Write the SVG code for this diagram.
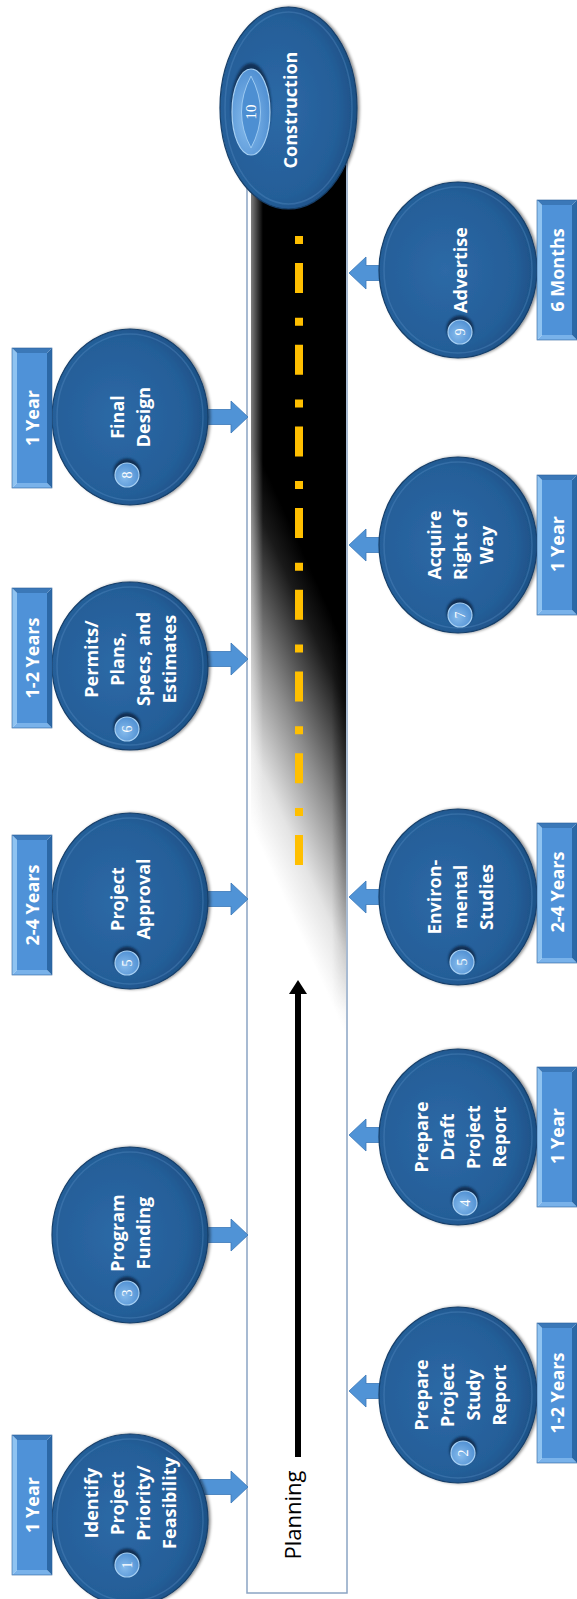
<svg xmlns="http://www.w3.org/2000/svg" width="577" height="1599" viewBox="0 0 577 1599">
<style>
.node{fill:url(#nodeGrad);stroke:#173f69;stroke-width:1.2;filter:url(#shadow)}
.rim{fill:none;stroke:#5a8fc6;stroke-opacity:.35;stroke-width:1.5}
.nl{font-family:"Open Sans","Liberation Sans",sans-serif;font-weight:700;font-size:18px;fill:#fff;text-anchor:middle}
.bl{font-family:"Open Sans","Liberation Sans",sans-serif;font-weight:700;font-size:18px;fill:#fff;text-anchor:middle}
.num{font-family:"Liberation Serif",serif;font-size:14px;fill:#fff;text-anchor:middle}
.blk{fill:#5093d6;stroke:#3a77b8;stroke-width:.8}
.plan{font-family:"Open Sans","Liberation Sans",sans-serif;font-size:22px;fill:#000;text-anchor:middle}
</style>
<defs>
<radialGradient id="nodeGrad" cx="0.42" cy="0.5" r="0.62">
<stop offset="0" stop-color="#2d69a6"/><stop offset="0.72" stop-color="#245e98"/><stop offset="1" stop-color="#1b4c80"/>
</radialGradient>
<radialGradient id="badgeGrad" cx="0.4" cy="0.6" r="0.7">
<stop offset="0" stop-color="#86bbec"/><stop offset="1" stop-color="#4a8bd0"/>
</radialGradient>
<linearGradient id="roadGrad" gradientUnits="userSpaceOnUse" x1="300" y1="545" x2="154" y2="611">
<stop offset="0" stop-color="#000"/><stop offset="0.15" stop-color="#1a1a1a"/><stop offset="0.5" stop-color="#8c8c8c"/><stop offset="0.8" stop-color="#e4e4e4"/><stop offset="1" stop-color="#fff"/>
</linearGradient>
<linearGradient id="lhl" x1="0" y1="0" x2="1" y2="0">
<stop offset="0" stop-color="#fff" stop-opacity="0.5"/><stop offset="1" stop-color="#fff" stop-opacity="0"/>
</linearGradient>
<linearGradient id="rsh" x1="0" y1="0" x2="1" y2="0">
<stop offset="0" stop-color="#000" stop-opacity="0"/><stop offset="1" stop-color="#000" stop-opacity="0.55"/>
</linearGradient>
<linearGradient id="vfade" gradientUnits="userSpaceOnUse" x1="0" y1="700" x2="0" y2="1010">
<stop offset="0" stop-color="#fff"/><stop offset="1" stop-color="#000"/>
</linearGradient>
<mask id="rfade" maskUnits="userSpaceOnUse" x="320" y="100" width="40" height="1500">
<rect x="320" y="100" width="40" height="1500" fill="url(#vfade)"/>
</mask>
<marker id="arrowHead" viewBox="0 0 14 18" refX="8" refY="9" markerWidth="14" markerHeight="18" markerUnits="userSpaceOnUse" orient="auto">
<path d="M0,0 L14,9 L0,18 Z" fill="#000"/>
</marker>
<filter id="shadow" x="-15%" y="-15%" width="135%" height="135%">
<feDropShadow dx="2" dy="0" stdDeviation="1.5" flood-color="#000" flood-opacity="0.45"/>
</filter>
<filter id="blur1" x="-30%" y="-30%" width="160%" height="160%"><feGaussianBlur stdDeviation="1"/></filter>
<g id="lbl">
<rect x="5" y="5" width="30" height="130" fill="#4f92d8"/>
<polygon points="0,0 5,5 5,135 0,140" fill="#8fc3f1"/>
<polygon points="0,140 5,135 35,135 40,140" fill="#79b2ea"/>
<polygon points="40,0 40,140 35,135 35,5" fill="#2c68a6"/>
<polygon points="0,0 40,0 35,5 5,5" fill="#3b78b8"/>
<rect x="0" y="0" width="40" height="140" fill="none" stroke="#2a5f99" stroke-width="0.6"/>
</g>
<g id="bdg">
<circle cx="0" cy="-3" r="13.5" fill="#0d2746" opacity="0.85" filter="url(#blur1)"/>
<circle cx="0" cy="0" r="12" fill="url(#badgeGrad)" stroke="#a6d0f4" stroke-width="1.2"/>
</g>
</defs>

<rect width="577" height="1599" fill="#fff"/>

<g id="road">
<rect x="247" y="120" width="100" height="1473" fill="#fff" stroke="#8ba4c3" stroke-width="1.5"/>
<rect x="251" y="120" width="95" height="1471" fill="url(#roadGrad)"/>
<rect x="251" y="120" width="12" height="1471" fill="url(#lhl)"/>
<rect x="332" y="120" width="14" height="1471" fill="url(#rsh)" mask="url(#rfade)"/>
<line x1="299" y1="236" x2="299" y2="866" stroke="#ffbf00" stroke-width="8" stroke-dasharray="8 19 30 24.7"/>
</g>

<g id="connectors">
<path class="blk" d="M200,1479.5 L231,1479.5 L231,1471 L248,1487 L231,1503 L231,1494.5 L200,1494.5 Z"/>
<path class="blk" d="M200,1227.5 L231,1227.5 L231,1219 L248,1235 L231,1251 L231,1242.5 L200,1242.5 Z"/>
<path class="blk" d="M200,891.5 L231,891.5 L231,883 L248,899 L231,915 L231,906.5 L200,906.5 Z"/>
<path class="blk" d="M200,651.5 L231,651.5 L231,643 L248,659 L231,675 L231,666.5 L200,666.5 Z"/>
<path class="blk" d="M200,409.5 L231,409.5 L231,401 L248,417 L231,433 L231,424.5 L200,424.5 Z"/>
<path class="blk" d="M388,1383.5 L366,1383.5 L366,1375 L349,1391 L366,1407 L366,1398.5 L388,1398.5 Z"/>
<path class="blk" d="M388,1127.5 L366,1127.5 L366,1119 L349,1135 L366,1151 L366,1142.5 L388,1142.5 Z"/>
<path class="blk" d="M388,889.5 L366,889.5 L366,881 L349,897 L366,913 L366,904.5 L388,904.5 Z"/>
<path class="blk" d="M388,537.5 L366,537.5 L366,529 L349,545 L366,561 L366,552.5 L388,552.5 Z"/>
<path class="blk" d="M388,265.5 L366,265.5 L366,257 L349,273 L366,289 L366,280.5 L388,280.5 Z"/>
<line id="planning-arrow" x1="298" y1="1457" x2="298" y2="986" stroke="#000" stroke-width="6" marker-end="url(#arrowHead)"/>
</g>

<g id="planning-label">
<text class="plan" transform="translate(301,1515) rotate(-90)">Planning</text>
</g>

<g id="node-1">
<ellipse class="node" cx="130" cy="1520" rx="78" ry="86"/>
<ellipse class="rim" cx="130" cy="1520" rx="73" ry="81"/>
<use href="#lbl" x="12" y="1435"/>
<text class="bl" transform="translate(38.5,1505) rotate(-90)">1 Year</text>
<text class="nl" transform="translate(97.5,1503) rotate(-90)"><tspan x="0" y="0">Identify</tspan><tspan x="0" dy="26">Project</tspan><tspan x="0" dy="26">Priority/</tspan><tspan x="0" dy="26">Feasibility</tspan></text>
<use href="#bdg" x="127" y="1565"/>
<text class="num" transform="translate(132,1565) rotate(-90)">1</text>
</g>

<g id="node-3">
<ellipse class="node" cx="130" cy="1235" rx="78" ry="88"/>
<ellipse class="rim" cx="130" cy="1235" rx="73" ry="83"/>
<text class="nl" transform="translate(123.5,1233) rotate(-90)"><tspan x="0" y="0">Program</tspan><tspan x="0" dy="26">Funding</tspan></text>
<use href="#bdg" x="127" y="1293"/>
<text class="num" transform="translate(132,1293) rotate(-90)">3</text>
</g>

<g id="node-5-approval">
<ellipse class="node" cx="130" cy="901" rx="78" ry="88"/>
<ellipse class="rim" cx="130" cy="901" rx="73" ry="83"/>
<use href="#lbl" x="12" y="835"/>
<text class="bl" transform="translate(38.5,905) rotate(-90)">2-4 Years</text>
<text class="nl" transform="translate(123.5,899) rotate(-90)"><tspan x="0" y="0">Project</tspan><tspan x="0" dy="26">Approval</tspan></text>
<use href="#bdg" x="127" y="963"/>
<text class="num" transform="translate(132,963) rotate(-90)">5</text>
</g>

<g id="node-6">
<ellipse class="node" cx="130" cy="666" rx="78" ry="84"/>
<ellipse class="rim" cx="130" cy="666" rx="73" ry="79"/>
<use href="#lbl" x="12" y="588"/>
<text class="bl" transform="translate(38.5,658) rotate(-90)">1-2 Years</text>
<text class="nl" transform="translate(97.5,659) rotate(-90)"><tspan x="0" y="0">Permits/</tspan><tspan x="0" dy="26">Plans,</tspan><tspan x="0" dy="26">Specs, and</tspan><tspan x="0" dy="26">Estimates</tspan></text>
<use href="#bdg" x="127" y="729"/>
<text class="num" transform="translate(132,729) rotate(-90)">6</text>
</g>

<g id="node-8">
<ellipse class="node" cx="130" cy="417" rx="78" ry="88"/>
<ellipse class="rim" cx="130" cy="417" rx="73" ry="83"/>
<use href="#lbl" x="12" y="348"/>
<text class="bl" transform="translate(38.5,418) rotate(-90)">1 Year</text>
<text class="nl" transform="translate(123.5,417) rotate(-90)"><tspan x="0" y="0">Final</tspan><tspan x="0" dy="26">Design</tspan></text>
<use href="#bdg" x="127" y="475"/>
<text class="num" transform="translate(132,475) rotate(-90)">8</text>
</g>

<g id="node-2">
<ellipse class="node" cx="458" cy="1395" rx="79" ry="88"/>
<ellipse class="rim" cx="458" cy="1395" rx="74" ry="83"/>
<use href="#lbl" x="537" y="1323"/>
<text class="bl" transform="translate(563.5,1393) rotate(-90)">1-2 Years</text>
<text class="nl" transform="translate(427.5,1395) rotate(-90)"><tspan x="0" y="0">Prepare</tspan><tspan x="0" dy="26">Project</tspan><tspan x="0" dy="26">Study</tspan><tspan x="0" dy="26">Report</tspan></text>
<use href="#bdg" x="463" y="1453"/>
<text class="num" transform="translate(468,1453) rotate(-90)">2</text>
</g>

<g id="node-4">
<ellipse class="node" cx="458" cy="1137" rx="79" ry="88"/>
<ellipse class="rim" cx="458" cy="1137" rx="74" ry="83"/>
<use href="#lbl" x="537" y="1067"/>
<text class="bl" transform="translate(563.5,1136) rotate(-90)">1 Year</text>
<text class="nl" transform="translate(427.5,1137) rotate(-90)"><tspan x="0" y="0">Prepare</tspan><tspan x="0" dy="26">Draft</tspan><tspan x="0" dy="26">Project</tspan><tspan x="0" dy="26">Report</tspan></text>
<use href="#bdg" x="465" y="1203"/>
<text class="num" transform="translate(470,1203) rotate(-90)">4</text>
</g>

<g id="node-5-environmental">
<ellipse class="node" cx="458" cy="897" rx="79" ry="88"/>
<ellipse class="rim" cx="458" cy="897" rx="74" ry="83"/>
<use href="#lbl" x="537" y="823"/>
<text class="bl" transform="translate(563.5,892) rotate(-90)">2-4 Years</text>
<text class="nl" transform="translate(440.5,897) rotate(-90)"><tspan x="0" y="0">Environ-</tspan><tspan x="0" dy="26">mental</tspan><tspan x="0" dy="26">Studies</tspan></text>
<use href="#bdg" x="462" y="962"/>
<text class="num" transform="translate(467,962) rotate(-90)">5</text>
</g>

<g id="node-7">
<ellipse class="node" cx="458" cy="545" rx="79" ry="88"/>
<ellipse class="rim" cx="458" cy="545" rx="74" ry="83"/>
<use href="#lbl" x="537" y="475"/>
<text class="bl" transform="translate(563.5,544) rotate(-90)">1 Year</text>
<text class="nl" transform="translate(440.5,545) rotate(-90)"><tspan x="0" y="0">Acquire</tspan><tspan x="0" dy="26">Right of</tspan><tspan x="0" dy="26">Way</tspan></text>
<use href="#bdg" x="460" y="615"/>
<text class="num" transform="translate(465,615) rotate(-90)">7</text>
</g>

<g id="node-9">
<ellipse class="node" cx="458" cy="270" rx="79" ry="88"/>
<ellipse class="rim" cx="458" cy="270" rx="74" ry="83"/>
<use href="#lbl" x="537" y="200"/>
<text class="bl" transform="translate(563.5,270) rotate(-90)">6 Months</text>
<text class="nl" transform="translate(466.5,270) rotate(-90)">Advertise</text>
<use href="#bdg" x="460" y="332"/>
<text class="num" transform="translate(465,332) rotate(-90)">9</text>
</g>

<g id="node-10">
<ellipse class="node" cx="288.5" cy="108" rx="68.5" ry="101"/>
<ellipse class="rim" cx="288.5" cy="108" rx="63.5" ry="96"/>
<ellipse cx="251" cy="107" rx="20" ry="44" fill="#0d2746" opacity="0.8" filter="url(#blur1)"/>
<ellipse cx="251" cy="112" rx="19" ry="43" fill="url(#badgeGrad)" stroke="#a6d0f4" stroke-width="1.2"/>
<path d="M251,76 Q270,112 251,148 Q232,112 251,76 Z" fill="#4d8fd2" stroke="#9ccaf2" stroke-width="1"/>
<text class="num" style="font-size:15px" transform="translate(256,112) rotate(-90)">10</text>
<text class="nl" transform="translate(296.5,110) rotate(-90)">Construction</text>
</g>
</svg>
